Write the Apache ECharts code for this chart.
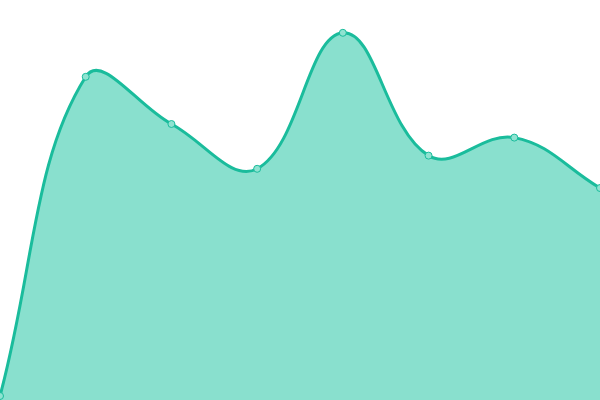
<!DOCTYPE html>
<html>
<head>
<meta charset="utf-8">
<script src="https://cdn.jsdelivr.net/npm/echarts@6/dist/echarts.min.js"></script>
<style>
  html, body { margin: 0; padding: 0; background: #fff; }
  #chart { width: 600px; height: 400px; }
</style>
</head>
<body>
<div id="chart"></div>
<script>
  // data
  const categories = ['A', 'B', 'C', 'D', 'E', 'F', 'G', 'H'];
  const values = [1, 80.8, 69, 57.8, 91.8, 61.1, 65.6, 53];

  const LINE = '#1abc9c';
  const AREA = '#89e0ce';
  const TENSION = 0.4;

  // cardinal-ish spline: control points scaled by neighbouring segment lengths
  const splinePath = (pts, box) => {
    const n = pts.length;
    const cps = pts.map((cur, i) => {
      const prev = pts[i - 1] || cur;
      const next = pts[i + 1] || cur;
      const d01 = Math.hypot(cur[0] - prev[0], cur[1] - prev[1]);
      const d12 = Math.hypot(next[0] - cur[0], next[1] - cur[1]);
      let s01 = d01 / (d01 + d12);
      let s12 = d12 / (d01 + d12);
      if (isNaN(s01)) s01 = 0;
      if (isNaN(s12)) s12 = 0;
      const fa = TENSION * s01;
      const fb = TENSION * s12;
      const dx = next[0] - prev[0];
      const dy = next[1] - prev[1];
      const cap = p => [
        Math.min(Math.max(p[0], box.x), box.x + box.width),
        Math.min(Math.max(p[1], box.y), box.y + box.height)
      ];
      return {
        before: cap([cur[0] - fa * dx, cur[1] - fa * dy]),
        after: cap([cur[0] + fb * dx, cur[1] + fb * dy])
      };
    });
    let d = `M${pts[0][0]} ${pts[0][1]}`;
    for (let i = 0; i < n - 1; i++) {
      const a = cps[i].after;
      const b = cps[i + 1].before;
      d += ` C${a[0]} ${a[1]} ${b[0]} ${b[1]} ${pts[i + 1][0]} ${pts[i + 1][1]}`;
    }
    return d;
  };

  const chart = echarts.init(document.getElementById('chart'));

  chart.setOption({
    animation: false,
    grid: { left: 0, right: 0, top: 0, bottom: 0 },
    xAxis: {
      type: 'category',
      boundaryGap: false,
      data: categories,
      show: false
    },
    yAxis: {
      type: 'value',
      min: 0,
      max: 100,
      show: false
    },
    series: [
      {
        type: 'custom',
        data: [[0, values[0]]],
        silent: true,
        renderItem: (params, api) => {
          const pts = values.map((v, i) => api.coord([i, v]));
          const base = api.coord([0, 0])[1];
          const curve = splinePath(pts, params.coordSys);
          const last = pts[pts.length - 1];
          const area = `${curve} L${last[0]} ${base} L${pts[0][0]} ${base} Z`;
          return {
            type: 'group',
            children: [
              {
                type: 'path',
                shape: { pathData: area },
                style: { fill: AREA, stroke: null }
              },
              {
                type: 'path',
                shape: { pathData: curve },
                style: { fill: null, stroke: LINE, lineWidth: 3 }
              }
            ]
          };
        }
      },
      {
        type: 'scatter',
        data: values,
        symbol: 'circle',
        symbolSize: 7,
        z: 5,
        itemStyle: {
          color: '#8fe3d1',
          borderColor: LINE,
          borderWidth: 1,
          opacity: 1
        }
      }
    ]
  });
</script>
</body>
</html>
